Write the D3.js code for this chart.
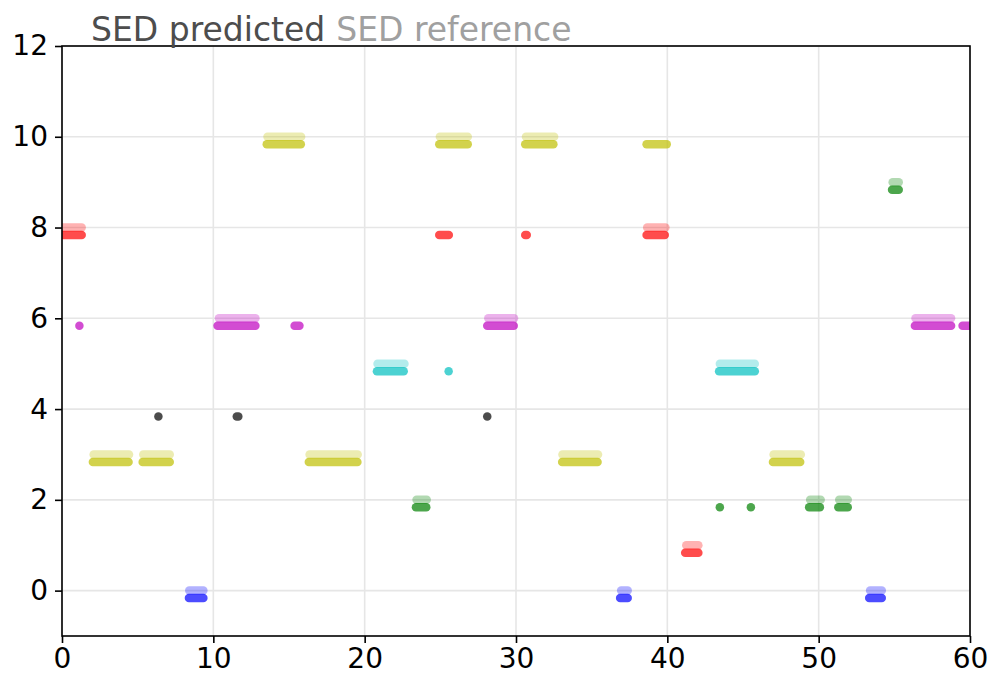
<!DOCTYPE html>
<html>
<head>
<meta charset="utf-8">
<script src="https://cdn.jsdelivr.net/npm/d3@7"></script>
<style>
  body { margin: 0; background: #fff; }
  text { font-family: "DejaVu Sans", sans-serif; }
</style>
</head>
<body>
<svg id="chart" width="990" height="680"></svg>
<script>
// segments: [start, end, class]
const refSegments = [
  [0.0, 1.3, 8], [2.09, 4.43, 3], [5.37, 7.12, 3], [8.41, 9.34, 0],
  [10.37, 12.78, 6], [13.58, 15.8, 10], [16.36, 19.54, 3], [20.85, 22.63, 5],
  [23.43, 24.1, 2], [24.97, 26.81, 10], [28.17, 29.87, 6], [30.66, 32.52, 10],
  [33.07, 35.42, 3], [36.95, 37.38, 0], [38.67, 39.87, 8], [41.25, 42.05, 1],
  [43.47, 45.78, 5], [47.02, 48.82, 3], [49.44, 50.13, 2], [51.36, 51.92, 2],
  [53.4, 54.17, 0], [54.89, 55.29, 9], [56.4, 58.75, 6]
];
const predSegments = [
  [0.0, 1.3, 8], [1.15, 1.15, 6], [2.04, 4.4, 3], [5.33, 7.12, 3],
  [6.37, 6.37, 4], [8.39, 9.34, 0], [10.28, 12.78, 6], [11.55, 11.65, 4],
  [13.53, 15.78, 10], [15.37, 15.69, 6], [16.31, 19.52, 3], [20.81, 22.58, 5],
  [23.39, 24.07, 2], [24.93, 26.81, 10], [24.93, 25.56, 8], [25.55, 25.55, 5],
  [28.1, 28.1, 4], [28.1, 29.85, 6], [30.61, 32.47, 10], [30.61, 30.71, 8],
  [33.05, 35.39, 3], [36.88, 37.38, 0], [38.63, 39.96, 10], [38.63, 39.83, 8],
  [41.18, 42.05, 1], [43.42, 45.78, 5], [43.47, 43.47, 2], [45.52, 45.52, 2],
  [46.98, 48.78, 3], [49.37, 50.08, 2], [51.3, 51.92, 2], [53.34, 54.17, 0],
  [54.85, 55.29, 9], [56.36, 58.75, 6], [59.51, 60.3, 6]
];
const classColors = ['#0000ff', '#ff0000', '#008000', '#bfbf00', '#000000', '#00bfbf', '#bf00bf'];
const xTicks = [0, 10, 20, 30, 40, 50, 60];
const yTicks = [0, 2, 4, 6, 8, 10, 12];
const predOffset = 0.165;

var margin = { top: 46, right: 20, bottom: 44, left: 62 };
var width = 990 - margin.left - margin.right;
var height = 680 - margin.top - margin.bottom;

var svg = d3.select('#chart');
var g = svg.append('g')
  .attr('transform', 'translate(' + margin.left + ',' + margin.top + ')');

var x = d3.scaleLinear().domain([0, 60]).range([0, width]);
var y = d3.scaleLinear().domain([-1, 12]).range([height, 0]);

// grid
g.append('g').selectAll('line')
  .data(xTicks)
  .enter().append('line')
  .attr('x1', d => x(d)).attr('x2', d => x(d))
  .attr('y1', 0).attr('y2', height)
  .attr('stroke', '#e6e6e6').attr('stroke-width', 1.6);
g.append('g').selectAll('line')
  .data(yTicks)
  .enter().append('line')
  .attr('x1', 0).attr('x2', width)
  .attr('y1', d => y(d)).attr('y2', d => y(d))
  .attr('stroke', '#e6e6e6').attr('stroke-width', 1.6);

svg.append('defs').append('clipPath').attr('id', 'clip')
  .append('rect').attr('width', width).attr('height', height);

var marks = g.append('g').attr('clip-path', 'url(#clip)');

function drawSegs(data, shift, alpha) {
  marks.append('g').selectAll('line')
    .data(data)
    .enter().append('line')
    .attr('x1', d => x(d[0]))
    .attr('x2', d => x(d[1]))
    .attr('y1', d => y(d[2] - shift))
    .attr('y2', d => y(d[2] - shift))
    .attr('stroke', d => classColors[d[2] % 7])
    .attr('stroke-opacity', alpha)
    .attr('stroke-width', 8.5)
    .attr('stroke-linecap', 'round');
}
drawSegs(predSegments, predOffset, 0.7);
drawSegs(refSegments, 0, 0.3);

// axes
var xAxis = g.append('g')
  .attr('transform', 'translate(0,' + height + ')')
  .call(d3.axisBottom(x).tickValues(xTicks).tickSize(7).tickPadding(5));
var yAxis = g.append('g')
  .call(d3.axisLeft(y).tickValues(yTicks).tickSize(7).tickPadding(7));
[xAxis, yAxis].forEach(function(a) {
  a.select('.domain').remove();
  a.selectAll('line').attr('stroke', '#000').attr('stroke-width', 1.6);
  a.selectAll('text').attr('fill', '#000').style('font-size', '28px')
    .style('font-family', '"DejaVu Sans", sans-serif');
});

g.append('rect')
  .attr('width', width).attr('height', height)
  .attr('fill', 'none').attr('stroke', '#000').attr('stroke-width', 1.6);

// title legend
var title = svg.append('text')
  .attr('x', 91).attr('y', 41)
  .style('font-size', '33px');
title.append('tspan').attr('fill', '#4d4d4d').text('SED predicted');
title.append('tspan').attr('fill', '#a0a0a0').attr('dx', 11).text('SED reference');
</script>
</body>
</html>
